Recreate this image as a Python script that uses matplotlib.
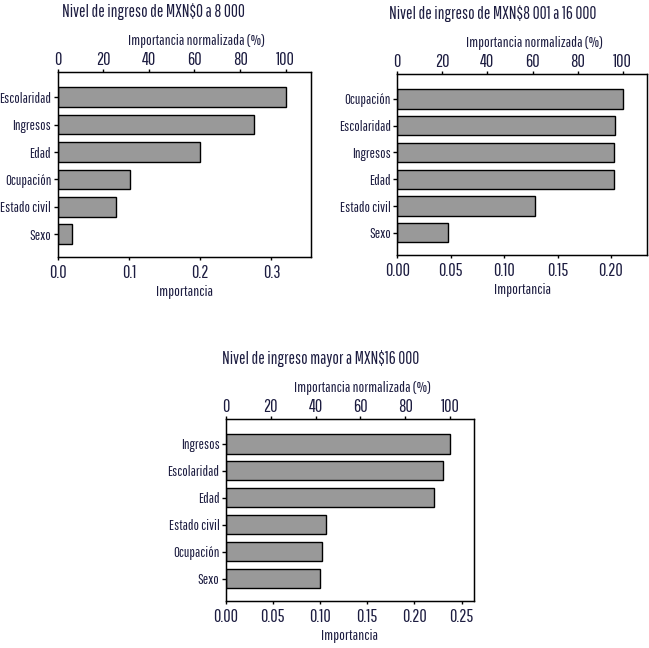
import matplotlib
matplotlib.use("Agg")
import matplotlib.pyplot as plt
from matplotlib import font_manager as fm

names = {f.name for f in fm.fontManager.ttflist}
fam = "DejaVu Sans"
for cand in ["Pathway Gothic One", "Fira Sans Extra Condensed", "Saira Extra Condensed",
             "Barlow Condensed", "Roboto Condensed", "Liberation Sans"]:
    if cand in names:
        fam = cand
        break
plt.rcParams['font.family'] = [fam, 'DejaVu Sans']

TXT = '#1c1c40'

titles = ["Nivel de ingreso de MXN$0 a 8 000",
          "Nivel de ingreso de MXN$8 001 a 16 000",
          "Nivel de ingreso mayor a MXN$16 000"]

cats1 = ["Escolaridad", "Ingresos", "Edad", "Ocupación", "Estado civil", "Sexo"]
vals1 = [0.320, 0.275, 0.200, 0.101, 0.082, 0.021]

cats2 = ["Ocupación", "Escolaridad", "Ingresos", "Edad", "Estado civil", "Sexo"]
vals2 = [0.211, 0.204, 0.203, 0.2025, 0.129, 0.047]

cats3 = ["Ingresos", "Escolaridad", "Edad", "Estado civil", "Ocupación", "Sexo"]
vals3 = [0.238, 0.230, 0.221, 0.1066, 0.1024, 0.1003]

xticks1 = [0.0, 0.1, 0.2, 0.3]
xticks2 = [0.00, 0.05, 0.10, 0.15, 0.20]
xticks3 = [0.00, 0.05, 0.10, 0.15, 0.20, 0.25]
pct_ticks = [0, 20, 40, 60, 80, 100]

panels = [
    (titles[0], cats1, vals1, xticks1, "{:.1f}", 0.355, [57.5, 72.0, 310.7, 257.0]),
    (titles[1], cats2, vals2, xticks2, "{:.2f}", 0.234, [397.3, 74.3, 647.3, 255.0]),
    (titles[2], cats3, vals3, xticks3, "{:.2f}", 0.2635, [225.7, 419.0, 474.3, 601.0]),
]

W, H = 649, 648
fig = plt.figure(figsize=(W / 100, H / 100), dpi=100)

for title, cats, vals, xt, fmt, xmax, (l, t, r, b) in panels:
    ax = fig.add_axes([l / W, 1 - b / H, (r - l) / W, (b - t) / H])
    ypos = list(range(len(cats)))
    ax.barh(ypos, vals, height=0.72, color='#999999', edgecolor='black', linewidth=1.0)
    ax.set_ylim(len(cats) - 0.17, -0.92)
    ax.set_xlim(0, xmax)
    ax.set_yticks(ypos)
    ax.set_yticklabels(cats, color=TXT, fontsize=10.4)
    ax.set_xticks(xt)
    ax.set_xticklabels([fmt.format(v) for v in xt], color=TXT, fontsize=13)
    ax.set_xlabel("Importancia", color=TXT, fontsize=11, labelpad=3)
    ax.tick_params(axis='y', length=3, width=1, colors='black', labelcolor=TXT, pad=1.5)
    ax.tick_params(axis='x', length=2.5, width=1, colors='black', labelcolor=TXT, pad=3)
    for s in ax.spines.values():
        s.set_linewidth(1.0)
    vmax = max(vals)
    ax2 = ax.twiny()
    ax2.set_xlim(0, xmax / vmax * 100)
    ax2.set_xticks(pct_ticks)
    ax2.set_xticklabels([str(p) for p in pct_ticks], color=TXT, fontsize=13)
    ax2.tick_params(length=2.5, width=1, colors='black', labelcolor=TXT, pad=0.5)
    ax2.set_xlabel("Importancia normalizada (%)", color=TXT, fontsize=10.8,
                   labelpad=5, x=0.5 + 12 / (r - l))
    ax.text(0.38, 1.0 + 61 / (b - t), title, transform=ax.transAxes,
            ha='center', va='center', fontsize=12.3, color=TXT)

fig.savefig("out.png", dpi=100)
